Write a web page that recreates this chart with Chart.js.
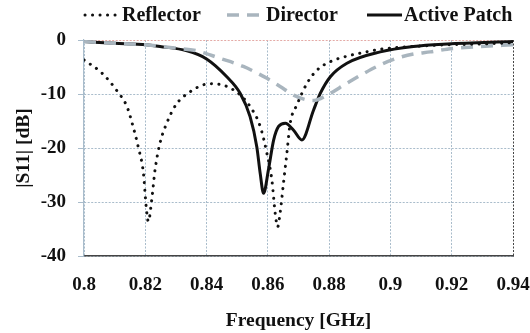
<!DOCTYPE html>
<html>
<head>
<meta charset="utf-8">
<script src="https://cdn.jsdelivr.net/npm/chart.js@4.4.1/dist/chart.umd.min.js"></script>
<style>
  html, body { margin: 0; padding: 0; background: #fff; }
  #wrap { width: 530px; height: 333px; position: relative; }
</style>
</head>
<body>
<div id="wrap"><canvas id="c"></canvas></div>
<script>
// Return loss |S11| of the three patch elements versus frequency
const reflectorFreq = [0.800, 0.806, 0.811, 0.814, 0.816, 0.8177, 0.8194, 0.8203, 0.821, 0.8221, 0.8232, 0.8248, 0.827, 0.830, 0.8346, 0.839, 0.8423, 0.8466, 0.851, 0.8542, 0.8575, 0.8597, 0.8613, 0.8624, 0.8632, 0.864, 0.8651, 0.8662, 0.8673, 0.8695, 0.8728, 0.876, 0.8804, 0.8858, 0.8913, 0.8967, 0.9075, 0.9185, 0.9294, 0.940];
const reflectorS11 = [-3.7, -6.2, -9.6, -12.3, -16, -19.8, -24.7, -30.9, -33.6, -29.6, -24, -19.1, -15.4, -12, -9.6, -8.3, -8.1, -8.6, -10.2, -12.3, -16, -21, -25.9, -32.1, -34.6, -32, -26.5, -21, -15.4, -12, -8, -5.6, -4, -3, -2.3, -1.7, -1.2, -0.9, -0.75, -0.5];

const directorFreq = [0.800, 0.810, 0.820, 0.830, 0.8368, 0.8444, 0.852, 0.8597, 0.864, 0.8684, 0.8728, 0.875, 0.8793, 0.8858, 0.8913, 0.8967, 0.902, 0.9076, 0.913, 0.9185, 0.9294, 0.940];
const directorS11 = [-0.3, -0.6, -0.9, -1.5, -2, -3.4, -4.9, -7.1, -8.6, -10.2, -11.1, -11.2, -10.2, -8, -6.2, -4.6, -3.4, -2.6, -2.2, -1.7, -1.2, -0.9];

const activeFreq = [0.800, 0.810, 0.8203, 0.8248, 0.8336, 0.840, 0.8466, 0.851, 0.8542, 0.8564, 0.8575, 0.8586, 0.8602, 0.8619, 0.8635, 0.8657, 0.8684, 0.8711, 0.8749, 0.8771, 0.8804, 0.8858, 0.8967, 0.9075, 0.9185, 0.940];
const activeS11 = [-0.3, -0.6, -0.9, -1.2, -2.0, -3.5, -6.8, -9.9, -14.2, -19.8, -24.7, -28.4, -24, -18.5, -16, -15.4, -16.7, -18.5, -13, -9.9, -6.8, -4.3, -2.2, -1.2, -0.75, -0.3];

const seriesNames = ['Reflector', 'Director', 'Active Patch'];
const xTicks = [0.8, 0.82, 0.84, 0.86, 0.88, 0.9, 0.92, 0.94];
const yTicks = [0, -10, -20, -30, -40];

const toPoints = (xs, ys) => xs.map((x, i) => ({ x: x, y: ys[i] }));

const FONT = "'Liberation Serif', 'Times New Roman', serif";
const gridBlue = '#a9bccb';

// Legend row above the plot: line sample followed by the series name
const legendRow = {
  id: 'legendRow',
  afterDraw(chart) {
    const ctx = chart.ctx;
    const y = 15;
    const slots = [
      { x0: 85, x1: 118, tx: 122 },
      { x0: 227, x1: 262, tx: 266 },
      { x0: 367, x1: 402, tx: 404 }
    ];
    ctx.save();
    chart.data.datasets.forEach((ds, i) => {
      const s = slots[i];
      ctx.beginPath();
      ctx.strokeStyle = ds.borderColor;
      ctx.lineWidth = ds.borderWidth;
      ctx.lineCap = ds.borderCapStyle || 'butt';
      ctx.setLineDash(ds.borderDash || []);
      ctx.moveTo(s.x0, y);
      ctx.lineTo(s.x1, y);
      ctx.stroke();
      ctx.setLineDash([]);
      ctx.fillStyle = '#111';
      ctx.font = "bold 20px " + FONT;
      ctx.textBaseline = 'middle';
      ctx.textAlign = 'left';
      ctx.fillText(ds.label, s.tx, y + 1);
    });
    ctx.restore();
  }
};

new Chart(document.getElementById('c'), {
  type: 'line',
  data: {
    datasets: [
      {
        label: seriesNames[0],
        data: toPoints(reflectorFreq, reflectorS11),
        borderColor: '#111',
        backgroundColor: '#111',
        borderWidth: 3,
        borderDash: [0.1, 7.4],
        borderCapStyle: 'round',
        pointRadius: 0,
        cubicInterpolationMode: 'monotone'
      },
      {
        label: seriesNames[1],
        data: toPoints(directorFreq, directorS11),
        borderColor: '#a9b5be',
        backgroundColor: '#a9b5be',
        borderWidth: 3.5,
        borderDash: [12, 8],
        pointRadius: 0,
        cubicInterpolationMode: 'monotone'
      },
      {
        label: seriesNames[2],
        data: toPoints(activeFreq, activeS11),
        borderColor: '#111',
        backgroundColor: '#111',
        borderWidth: 3,
        pointRadius: 0,
        cubicInterpolationMode: 'monotone'
      }
    ]
  },
  options: {
    responsive: true,
    maintainAspectRatio: false,
    animation: false,
    layout: { padding: { left: 0, right: 17, top: 40, bottom: 0 } },
    plugins: {
      tooltip: { enabled: false },
      legend: { display: false }
    },
    scales: {
      x: {
        type: 'linear',
        min: 0.8,
        max: 0.94,
        afterBuildTicks: (scale) => { scale.ticks = xTicks.map(v => ({ value: v })); },
        afterFit: (scale) => {
          scale.height = 77;
          scale.paddingLeft = 0;
          scale.paddingRight = 0;
        },
        ticks: {
          color: '#111',
          padding: 18,
          font: { family: FONT, size: 19, weight: 'bold' },
          callback: (v) => String(Number(v.toFixed(2)))
        },
        grid: {
          color: (ctx) => (ctx.tick && Math.abs(ctx.tick.value - 0.94) < 1e-9) ? '#444' : gridBlue,
          lineWidth: 1,
          tickLength: 0
        },
        border: { color: '#444', width: 1.5, dash: [2, 1.5] },
        title: {
          display: true,
          text: 'Frequency [GHz]',
          color: '#111',
          font: { family: FONT, size: 19.5, weight: 'bold' },
          padding: { top: 6, bottom: 0 }
        }
      },
      y: {
        min: -40,
        max: 0,
        afterBuildTicks: (scale) => { scale.ticks = yTicks.map(v => ({ value: v })); },
        afterFit: (scale) => {
          scale.width = 84;
          scale.paddingTop = 0;
          scale.paddingBottom = 0;
        },
        ticks: {
          color: '#111',
          padding: 12,
          font: { family: FONT, size: 19, weight: 'bold' }
        },
        grid: {
          color: (ctx) => (ctx.tick && ctx.tick.value === 0) ? '#e4aaa6' : gridBlue,
          lineWidth: 1,
          tickLength: 6,
          tickColor: gridBlue
        },
        border: { color: gridBlue, width: 1.2, dash: [2, 1.5] },
        title: {
          display: true,
          text: '|S11| [dB]',
          color: '#111',
          font: { family: FONT, size: 19.5, weight: 'bold' },
          padding: { top: 12, bottom: 0 }
        }
      }
    }
  },
  plugins: [legendRow]
});
</script>
</body>
</html>
